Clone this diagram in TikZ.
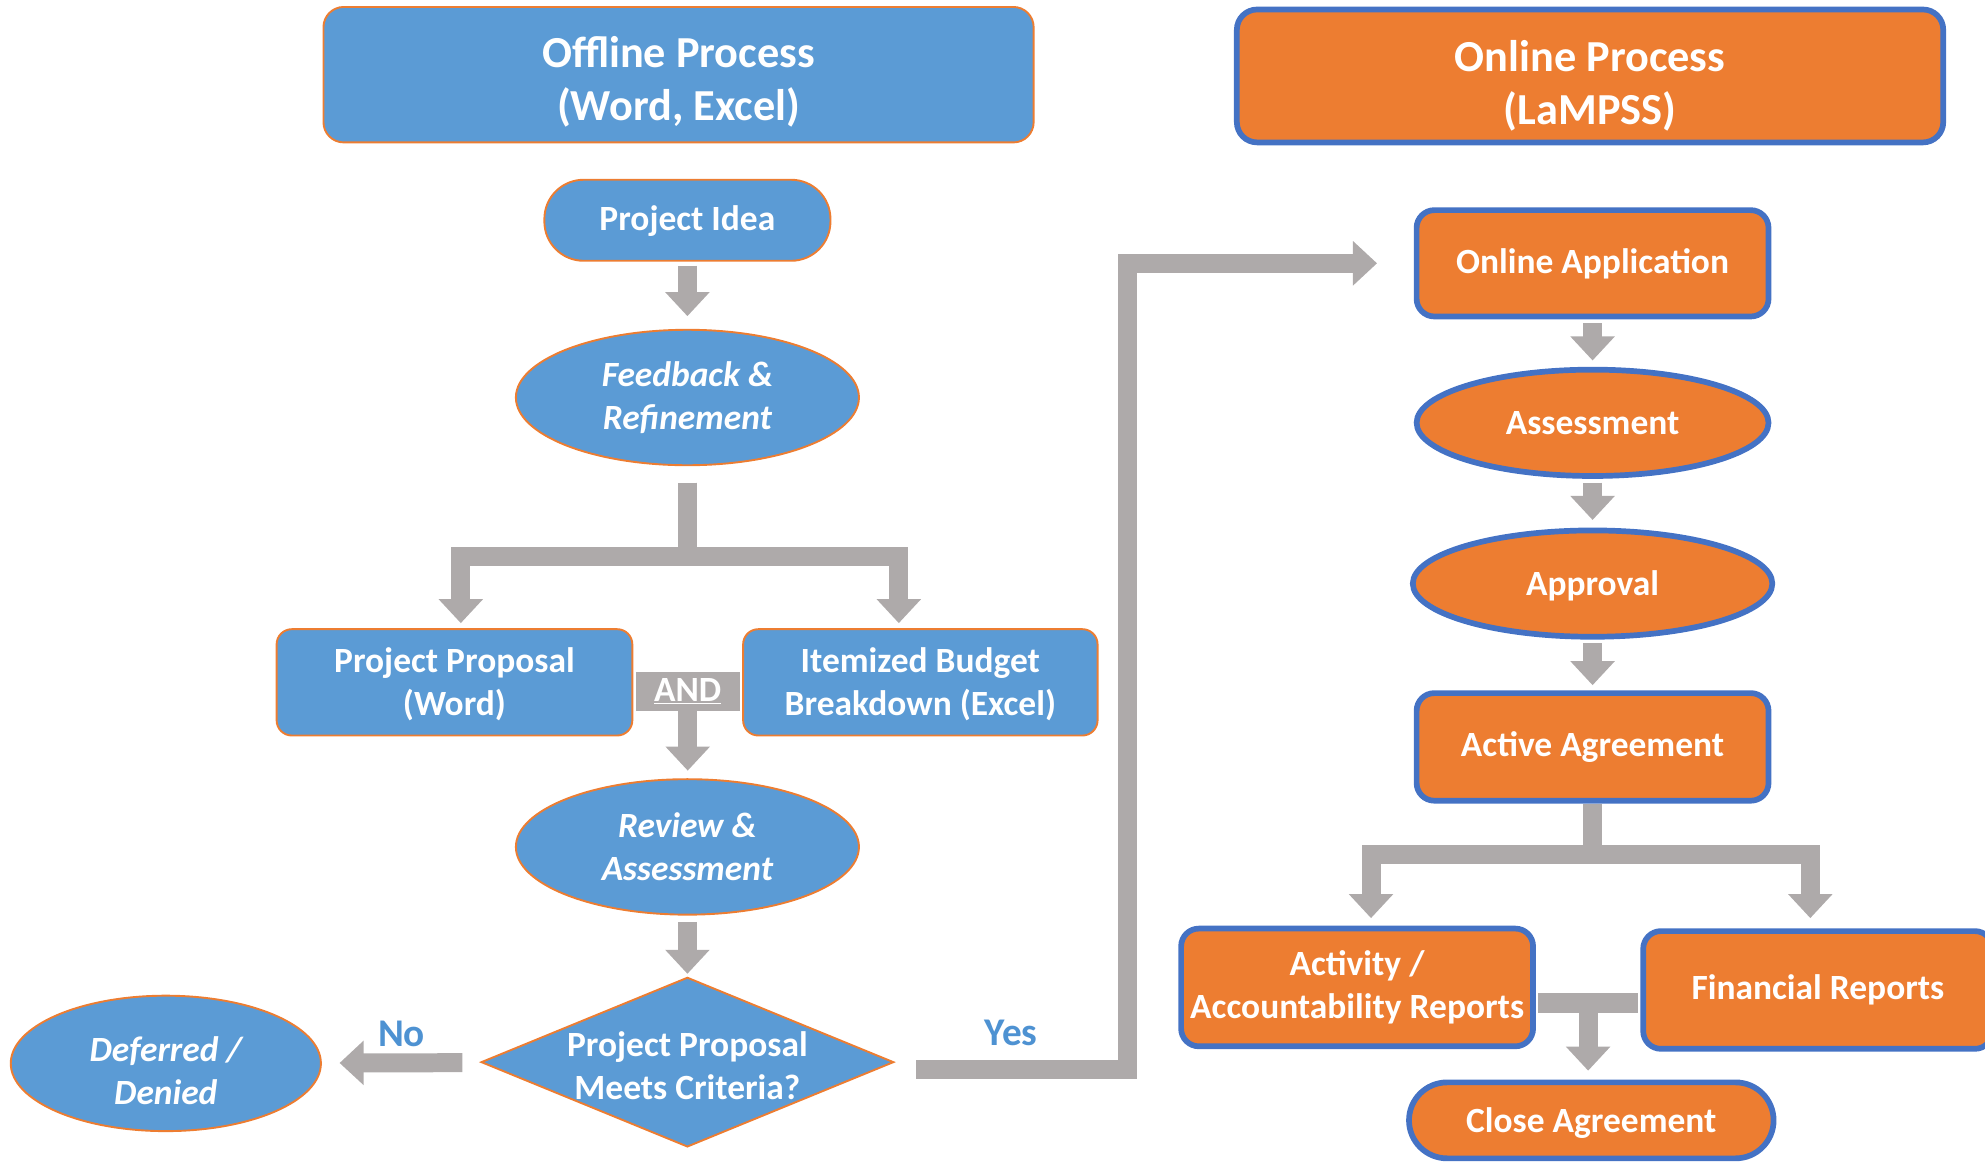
\documentclass[tikz,border=0pt]{standalone}
\usepackage{fontspec}
\setmainfont{Carlito}
\usetikzlibrary{shapes.geometric,arrows.meta,calc}

\definecolor{offblue}{HTML}{5B9BD5}
\definecolor{onorange}{HTML}{ED7D31}
\definecolor{onedge}{HTML}{4472C4}
\definecolor{flowgray}{HTML}{AEAAAA}
\definecolor{answerblue}{HTML}{4E92D2}

\newcommand{\sinktext}[2]{\raisebox{-#1}[\height][\depth]{#2}}

\tikzstyle{procnode} = [text=white, align=center, inner sep=0pt,
    font=\bfseries\fontsize{28}{34}\selectfont]
\tikzstyle{offnode} = [procnode, draw=onorange, fill=offblue, line width=1.5pt]
\tikzstyle{onnode} = [procnode, draw=onedge, fill=onorange, line width=4.5pt]
\tikzstyle{offbox} = [offnode, rectangle, rounded corners=12pt,
    minimum width=281pt, minimum height=84pt]
\tikzstyle{offoval} = [offnode, ellipse, minimum width=271pt, minimum height=107pt,
    font=\bfseries\itshape\fontsize{28}{34}\selectfont]
\tikzstyle{onbox} = [onnode, rectangle, rounded corners=14pt,
    minimum width=278pt, minimum height=84pt]
\tikzstyle{onoval} = [onnode, ellipse, minimum width=278pt, minimum height=84pt]
\tikzstyle{headbox} = [rectangle, rounded corners=16pt, text=white, align=center,
    font=\bfseries\fontsize{35}{42}\selectfont, minimum width=558pt, minimum height=105pt]
\tikzstyle{flow} = [draw=flowgray, line width=15pt, line join=miter,
    -{Triangle[width=34pt,length=19pt]}, shorten <=3pt, shorten >=6pt]
\tikzstyle{joinbar} = [draw=flowgray, line width=16pt, shorten <=2pt, shorten >=2pt]
\tikzstyle{answer} = [text=answerblue, inner sep=0pt, anchor=base, yshift=13pt,
    font=\bfseries\fontsize{31}{37}\selectfont]

\begin{document}
\begin{tikzpicture}[x=1pt, y=-1pt]
\useasboundingbox (0,0) rectangle (1568,920);

\node [headbox, draw=onorange, fill=offblue, line width=1.5pt, minimum width=561pt, minimum height=107pt, text depth=0pt] (offhead) at (536,59) {\sinktext{3pt}{Offline Process}\\\sinktext{3pt}{(Word, Excel)}};
\node [headbox, draw=onedge, fill=onorange, line width=4.5pt, text depth=0pt] (onhead) at (1256,60) {\sinktext{5pt}{Online Process}\\\sinktext{5pt}{(LaMPSS)}};

\node [offbox, rounded corners=31pt, minimum width=226pt, minimum height=64pt, text depth=3pt] (idea) at (543,174) {Project Idea};
\node [offoval] (feedback) at (543,314) {Feedback \&\\Refinement};
\node [offbox, text depth=1pt] (proposal) at (359,539) {Project Proposal\\(Word)};
\node [offbox, minimum width=280pt, text depth=1pt] (budget) at (727,539) {Itemized Budget\\Breakdown (Excel)};
\node [offoval] (review) at (543,669) {Review \&\\Assessment};
\node [offnode, diamond, aspect=2.4, inner xsep=-40pt, inner ysep=-14pt, minimum width=326pt, minimum height=134pt] (criteria) at (543,839) {\sinktext{3pt}{Project Proposal}\\\sinktext{3pt}{Meets Criteria?}};
\node [offoval, minimum width=245pt] (deferred) at (131,840) {\sinktext{6pt}{Deferred /}\\\sinktext{6pt}{Denied}};

\node [onbox, text depth=3pt] (apply) at (1258,208) {Online Application};
\node [onoval] (assess) at (1258,334) {Assessment};
\node [onoval, minimum width=284pt, text depth=1pt] (approve) at (1258,461) {Approval};
\node [onbox, minimum height=85pt] (agree) at (1258,590) {Active Agreement};
\node [onbox, minimum height=93pt] (activity) at (1072,780) {Activity /\\Accountability Reports};
\node [onbox, minimum width=276pt, minimum height=93pt] (financial) at (1436,782) {Financial Reports};
\node [onbox, rounded corners=30pt, minimum width=288pt, minimum height=60pt, text depth=-2pt] (close) at (1257,885) {Close Agreement};

\draw [flow, shorten >=10pt] (idea) -- (feedback);
\draw [flow, shorten <=13pt, shorten >=4pt] (feedback.south) -- ++(0,71) -| ([xshift=5pt]proposal.north);
\draw [flow, shorten <=13pt, shorten >=4pt] (feedback.south) -- ++(0,71) -| ([xshift=-17pt]budget.north);
\draw [joinbar, line width=31pt] ([yshift=-7pt]proposal.east) -- coordinate[midway] (andjoin) ([yshift=-7pt]budget.west);
\draw [flow, shorten <=15pt] (andjoin) -- (andjoin |- review.north);
\node [procnode] (andlabel) at (andjoin) {\underline{AND}};
\draw [flow, shorten <=5pt, shorten >=2pt] (review) -- (criteria);
\draw [flow, shorten <=15pt, shorten >=14pt] (criteria) -- node[answer] (nolabel) {No} (deferred);
\draw [flow, shorten <=17pt, shorten >=29pt] ([yshift=-6pt]criteria.east) -- node[answer, yshift=6pt] (yeslabel) {Yes} ++(184,0) |- (apply.west);

\draw [flow, shorten >=5pt] (apply) -- (assess);
\draw [flow] (assess) -- (approve);
\draw [flow, shorten >=4pt] (approve) -- (agree);
\draw [flow, shorten <=0pt, shorten >=6pt] (agree.south) -- ++(0,40) -| ([xshift=11pt]activity.north);
\draw [flow, shorten <=0pt, shorten >=8pt] (agree.south) -- ++(0,40) -| ([xshift=-6pt]financial.north);
\draw [joinbar] ([yshift=-12pt]activity.east) -- coordinate[midway] (reportjoin) ([yshift=-10pt]financial.west);
\draw [flow, shorten <=8pt, shorten >=7pt] (reportjoin) -- (reportjoin |- close.north);
\end{tikzpicture}
\end{document}
